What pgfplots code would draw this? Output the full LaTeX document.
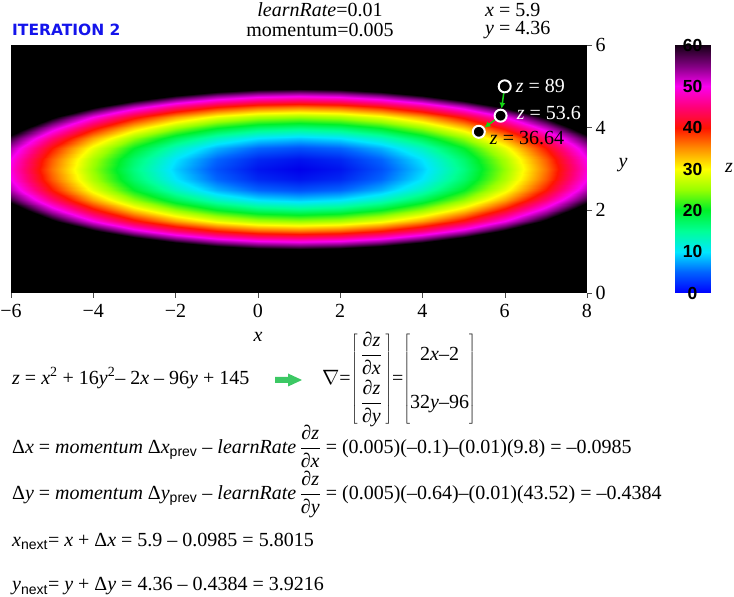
\documentclass[border=0pt]{standalone}
\usepackage{pgfplots}
\pgfplotsset{compat=1.18}
\usepackage{fontspec}
\setmainfont{Liberation Serif}
\newfontfamily\arial{Liberation Sans}
\newfontfamily\verdana{DejaVu Sans}
\usetikzlibrary{arrows.meta}

\definecolor{arrowgreen}{RGB}{20,215,20}
\definecolor{blockgreen}{RGB}{60,200,100}
\definecolor{iterblue}{RGB}{20,20,235}

% hue map 0..60, black above 60
\pgfplotsset{
  colormap={zmap}{rgb255(0cm)=(0,0,235) rgb255(0.5cm)=(0,100,255) rgb255(1cm)=(0,230,255)
    rgb255(1.5cm)=(0,255,150) rgb255(2cm)=(0,240,40) rgb255(2.5cm)=(150,255,0)
    rgb255(3cm)=(255,255,0) rgb255(3.5cm)=(255,140,0) rgb255(4cm)=(255,20,0)
    rgb255(4.5cm)=(255,0,120) rgb255(5cm)=(250,0,240) rgb255(5.5cm)=(130,0,130)
    rgb255(6cm)=(0,0,0) rgb255(12cm)=(0,0,0)},
  colormap={zbar}{rgb255(0cm)=(0,0,255) rgb255(0.5cm)=(0,100,255) rgb255(1cm)=(0,230,255)
    rgb255(1.5cm)=(0,255,150) rgb255(2cm)=(0,240,40) rgb255(2.5cm)=(150,255,0)
    rgb255(3cm)=(255,255,0) rgb255(3.5cm)=(255,140,0) rgb255(4cm)=(255,20,0)
    rgb255(4.5cm)=(255,0,120) rgb255(5cm)=(250,0,240) rgb255(5.5cm)=(130,0,130)
    rgb255(6cm)=(20,0,20)},
}

\newcommand{\tf}{\fontsize{20}{24}\selectfont}
\newcommand{\pd}[1]{\displaystyle\frac{\mbox{∂\textit{z}}}{\mbox{∂\textit{#1}}}}
\newcommand{\sub}[1]{\textsubscript{\arial #1}}

\begin{document}
\begin{tikzpicture}[x=1pt,y=1pt, t/.style={inner sep=0pt, font=\tf}]
\useasboundingbox (0,0) rectangle (734,597);

\begin{axis}[
  at={(11pt,304pt)}, anchor=south west,
  scale only axis, width=576pt, height=248pt,
  xmin=-6, xmax=8, ymin=0, ymax=6,
  axis background/.style={fill=black},
  axis line style={draw=none},
  colormap name=zmap, point meta min=0, point meta max=120,
  xtick={-6,-4,...,8}, xticklabels={−6,−4,−2,0,2,4,6,8},
  ytick={0,2,4,6}, yticklabels={0,2,4,6},
  tick align=outside, xtick pos=left, ytick pos=right,
  xticklabel pos=left, yticklabel pos=right,
  major tick length=5pt,
  tick style={black!70, thin},
  tick label style={font=\tf},
  xticklabel style={yshift=-3pt},
]
\addplot[surf, shader=interp, mesh/cols=15, point meta=explicit] coordinates {
(-6,1)[113] (-5,1)[100] (-4,1)[89] (-3,1)[80] (-2,1)[73] (-1,1)[68] (0,1)[65] (1,1)[64] (2,1)[65] (3,1)[68] (4,1)[73] (5,1)[80] (6,1)[89] (7,1)[100] (8,1)[113]
(-6,1.25)[98] (-5,1.25)[85] (-4,1.25)[74] (-3,1.25)[65] (-2,1.25)[58] (-1,1.25)[53] (0,1.25)[50] (1,1.25)[49] (2,1.25)[50] (3,1.25)[53] (4,1.25)[58] (5,1.25)[65] (6,1.25)[74] (7,1.25)[85] (8,1.25)[98]
(-6,1.5)[85] (-5,1.5)[72] (-4,1.5)[61] (-3,1.5)[52] (-2,1.5)[45] (-1,1.5)[40] (0,1.5)[37] (1,1.5)[36] (2,1.5)[37] (3,1.5)[40] (4,1.5)[45] (5,1.5)[52] (6,1.5)[61] (7,1.5)[72] (8,1.5)[85]
(-6,1.75)[74] (-5,1.75)[61] (-4,1.75)[50] (-3,1.75)[41] (-2,1.75)[34] (-1,1.75)[29] (0,1.75)[26] (1,1.75)[25] (2,1.75)[26] (3,1.75)[29] (4,1.75)[34] (5,1.75)[41] (6,1.75)[50] (7,1.75)[61] (8,1.75)[74]
(-6,2)[65] (-5,2)[52] (-4,2)[41] (-3,2)[32] (-2,2)[25] (-1,2)[20] (0,2)[17] (1,2)[16] (2,2)[17] (3,2)[20] (4,2)[25] (5,2)[32] (6,2)[41] (7,2)[52] (8,2)[65]
(-6,2.25)[58] (-5,2.25)[45] (-4,2.25)[34] (-3,2.25)[25] (-2,2.25)[18] (-1,2.25)[13] (0,2.25)[10] (1,2.25)[9] (2,2.25)[10] (3,2.25)[13] (4,2.25)[18] (5,2.25)[25] (6,2.25)[34] (7,2.25)[45] (8,2.25)[58]
(-6,2.5)[53] (-5,2.5)[40] (-4,2.5)[29] (-3,2.5)[20] (-2,2.5)[13] (-1,2.5)[8] (0,2.5)[5] (1,2.5)[4] (2,2.5)[5] (3,2.5)[8] (4,2.5)[13] (5,2.5)[20] (6,2.5)[29] (7,2.5)[40] (8,2.5)[53]
(-6,2.75)[50] (-5,2.75)[37] (-4,2.75)[26] (-3,2.75)[17] (-2,2.75)[10] (-1,2.75)[5] (0,2.75)[2] (1,2.75)[1] (2,2.75)[2] (3,2.75)[5] (4,2.75)[10] (5,2.75)[17] (6,2.75)[26] (7,2.75)[37] (8,2.75)[50]
(-6,3)[49] (-5,3)[36] (-4,3)[25] (-3,3)[16] (-2,3)[9] (-1,3)[4] (0,3)[1] (1,3)[0] (2,3)[1] (3,3)[4] (4,3)[9] (5,3)[16] (6,3)[25] (7,3)[36] (8,3)[49]
(-6,3.25)[50] (-5,3.25)[37] (-4,3.25)[26] (-3,3.25)[17] (-2,3.25)[10] (-1,3.25)[5] (0,3.25)[2] (1,3.25)[1] (2,3.25)[2] (3,3.25)[5] (4,3.25)[10] (5,3.25)[17] (6,3.25)[26] (7,3.25)[37] (8,3.25)[50]
(-6,3.5)[53] (-5,3.5)[40] (-4,3.5)[29] (-3,3.5)[20] (-2,3.5)[13] (-1,3.5)[8] (0,3.5)[5] (1,3.5)[4] (2,3.5)[5] (3,3.5)[8] (4,3.5)[13] (5,3.5)[20] (6,3.5)[29] (7,3.5)[40] (8,3.5)[53]
(-6,3.75)[58] (-5,3.75)[45] (-4,3.75)[34] (-3,3.75)[25] (-2,3.75)[18] (-1,3.75)[13] (0,3.75)[10] (1,3.75)[9] (2,3.75)[10] (3,3.75)[13] (4,3.75)[18] (5,3.75)[25] (6,3.75)[34] (7,3.75)[45] (8,3.75)[58]
(-6,4)[65] (-5,4)[52] (-4,4)[41] (-3,4)[32] (-2,4)[25] (-1,4)[20] (0,4)[17] (1,4)[16] (2,4)[17] (3,4)[20] (4,4)[25] (5,4)[32] (6,4)[41] (7,4)[52] (8,4)[65]
(-6,4.25)[74] (-5,4.25)[61] (-4,4.25)[50] (-3,4.25)[41] (-2,4.25)[34] (-1,4.25)[29] (0,4.25)[26] (1,4.25)[25] (2,4.25)[26] (3,4.25)[29] (4,4.25)[34] (5,4.25)[41] (6,4.25)[50] (7,4.25)[61] (8,4.25)[74]
(-6,4.5)[85] (-5,4.5)[72] (-4,4.5)[61] (-3,4.5)[52] (-2,4.5)[45] (-1,4.5)[40] (0,4.5)[37] (1,4.5)[36] (2,4.5)[37] (3,4.5)[40] (4,4.5)[45] (5,4.5)[52] (6,4.5)[61] (7,4.5)[72] (8,4.5)[85]
(-6,4.75)[98] (-5,4.75)[85] (-4,4.75)[74] (-3,4.75)[65] (-2,4.75)[58] (-1,4.75)[53] (0,4.75)[50] (1,4.75)[49] (2,4.75)[50] (3,4.75)[53] (4,4.75)[58] (5,4.75)[65] (6,4.75)[74] (7,4.75)[85] (8,4.75)[98]
(-6,5)[113] (-5,5)[100] (-4,5)[89] (-3,5)[80] (-2,5)[73] (-1,5)[68] (0,5)[65] (1,5)[64] (2,5)[65] (3,5)[68] (4,5)[73] (5,5)[80] (6,5)[89] (7,5)[100] (8,5)[113]
};
% descent steps
\addplot[arrowgreen, line width=1.5pt, -{Latex[length=6pt,width=6pt]}, shorten <=7pt, shorten >=7pt] coordinates {(6,5) (5.90,4.29)};
\addplot[arrowgreen, line width=1.5pt, -{Latex[length=6pt,width=6pt]}, shorten <=7pt, shorten >=7pt] coordinates {(5.90,4.29) (5.37,3.90)};
\addplot[only marks, mark=*, mark size=6pt, mark options={draw=white, fill=black, line width=2pt}] coordinates {(6,5) (5.90,4.29) (5.37,3.90)};
\node[t, anchor=west, white, xshift=11pt] at (axis cs:6,5) {\textit{z} = 89};
\node[t, anchor=west, white, xshift=16pt, yshift=2.5pt] at (axis cs:5.90,4.29) {\textit{z} = 53.6};
\node[t, anchor=west, black, xshift=11pt, yshift=-6.5pt] at (axis cs:5.37,3.90) {\textit{z} = 36.64};
\end{axis}

% colour bar
\begin{axis}[
  at={(675pt,304pt)}, anchor=south west,
  scale only axis, width=35pt, height=248pt,
  xmin=0, xmax=1, ymin=0, ymax=60,
  axis on top,
  axis line style={draw=none}, xtick=\empty,
  ytick={0,10,...,60}, major tick length=0pt,
  /pgf/number format/assume math mode=true,
  yticklabel style={anchor=center, xshift=17.5pt, inner sep=0pt,
    font=\arial\bfseries\fontsize{17.5}{18}\selectfont},
  colormap name=zbar, point meta min=0, point meta max=60,
]
\addplot[surf, shader=interp, mesh/cols=2, point meta=explicit] coordinates {
(0,0)[0] (1,0)[0] (0,5)[5] (1,5)[5] (0,10)[10] (1,10)[10] (0,15)[15] (1,15)[15]
(0,20)[20] (1,20)[20] (0,25)[25] (1,25)[25] (0,30)[30] (1,30)[30] (0,35)[35] (1,35)[35]
(0,40)[40] (1,40)[40] (0,45)[45] (1,45)[45] (0,50)[50] (1,50)[50] (0,55)[55] (1,55)[55]
(0,60)[60] (1,60)[60]
};
\end{axis}

% axis labels
\node[t] at (623,432) {\textit{y}};
\node[t] at (729,429) {\textit{z}};
\node[t] at (258,260) {\textit{x}};

% header
\node[t, anchor=west, text=iterblue, font=\verdana\bfseries\fontsize{15.5}{18}\selectfont] at (12,567) {ITERATION 2};
\node[t] at (320,587) {\textit{learnRate}=0.01};
\node[t] at (320,567) {momentum=0.005};
\node[t, anchor=west] at (485,587) {\textit{x} = 5.9};
\node[t, anchor=west] at (485,567) {\textit{y} = 4.36};

% equations
\node[t, anchor=base west] at (12,212.5) {\textit{z} = \textit{x}\textsuperscript{2} + 16\textit{y}\textsuperscript{2}– 2\textit{x} – 96\textit{y} + 145};
\fill[blockgreen] (275,214) -- (288,214) -- (288,210.5) -- (302,217) -- (288,223.5) -- (288,220) -- (275,220) -- cycle;
\node[t, anchor=base west] at (322,212.5) {$\nabla$=$\left[\begin{array}{@{\,}c@{\,}}\pd{x}\\[12pt]\pd{y}\end{array}\right]$=$\left[\begin{array}{@{}c@{}}\vphantom{\pd{x}}\mbox{2\textit{x}–2}\\[12pt]\vphantom{\pd{y}}\mbox{32\textit{y}–96}\end{array}\right]$};
\node[t, anchor=base west] at (12,143.4) {Δ\textit{x} = \textit{momentum} Δ\textit{x}\sub{prev} – \textit{learnRate}\,$\pd{x}$ = (0.005)(–0.1)–(0.01)(9.8) = –0.0985};
\node[t, anchor=base west] at (12,97.4) {Δ\textit{y} = \textit{momentum} Δ\textit{y}\sub{prev} – \textit{learnRate}\,$\pd{y}$ = (0.005)(–0.64)–(0.01)(43.52) = –0.4384};
\node[t, anchor=base west] at (12,50.4) {\textit{x}\sub{next}= \textit{x} + Δ\textit{x} = 5.9 – 0.0985 = 5.8015};
\node[t, anchor=base west] at (12,6) {\textit{y}\sub{next}= \textit{y} + Δ\textit{y} = 4.36 – 0.4384 = 3.9216};
\end{tikzpicture}
\end{document}
